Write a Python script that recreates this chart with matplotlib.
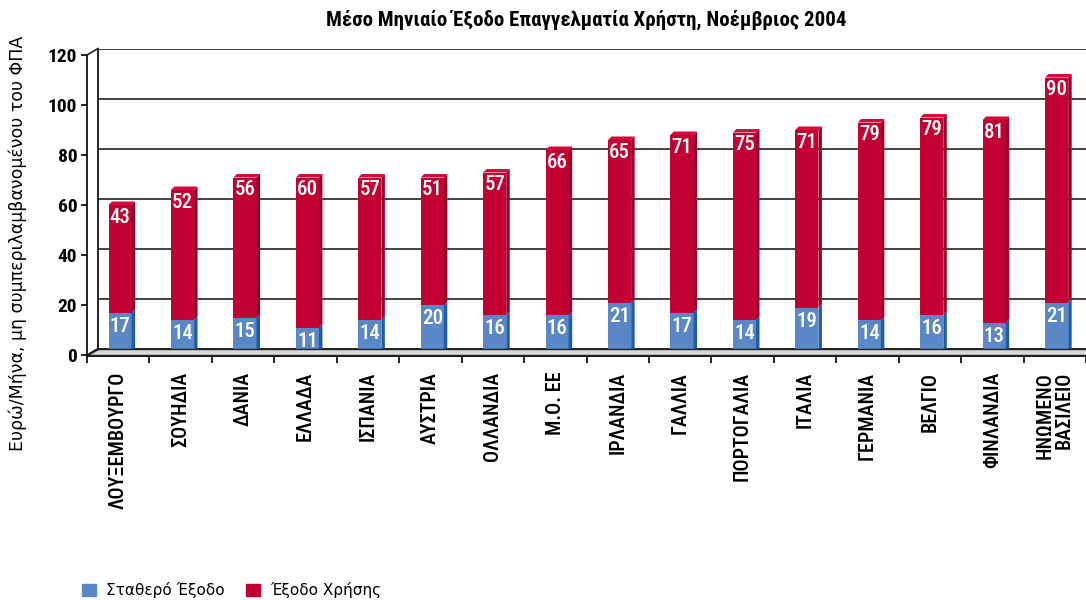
import matplotlib
matplotlib.use('Agg')
import matplotlib.pyplot as plt
from matplotlib import font_manager
from matplotlib.patches import Patch, Polygon

# Δεδομένα
countries = ['ΛΟΥΞΕΜΒΟΥΡΓΟ', 'ΣΟΥΗΔΙΑ', 'ΔΑΝΙΑ', 'ΕΛΛΑΔΑ', 'ΙΣΠΑΝΙΑ', 'ΑΥΣΤΡΙΑ',
             'ΟΛΛΑΝΔΙΑ', 'Μ.Ο. ΕΕ', 'ΙΡΛΑΝΔΙΑ', 'ΓΑΛΛΙΑ', 'ΠΟΡΤΟΓΑΛΙΑ', 'ΙΤΑΛΙΑ',
             'ΓΕΡΜΑΝΙΑ', 'ΒΕΛΓΙΟ', 'ΦΙΝΛΑΝΔΙΑ', 'ΗΝΩΜΕΝΟ\nΒΑΣΙΛΕΙΟ']
fixed_cost = [17, 14, 15, 11, 14, 20, 16, 16, 21, 17, 14, 19, 14, 16, 13, 21]
usage_cost = [43, 52, 56, 60, 57, 51, 57, 66, 65, 71, 75, 71, 79, 79, 81, 90]
y_ticks = [0, 20, 40, 60, 80, 100, 120]

title = 'Μέσο Μηνιαίο Έξοδο Επαγγελματία Χρήστη, Νοέμβριος 2004'
ylabel = 'Ευρώ/Μήνα, μη συμπεριλαμβανομένου του ΦΠΑ'
legend_labels = ['Σταθερό Έξοδο', 'Έξοδο Χρήσης']

blue, blue_side = '#5a87c5', '#1f5ca8'
red, red_side = '#c30032', '#9c0028'

# στενή γραμματοσειρά αν υπάρχει
names = {f.name for f in font_manager.fontManager.ttflist}
cond = 'DejaVu Sans'
for n in ['Roboto Condensed', 'DejaVu Sans Condensed', 'Liberation Sans Narrow']:
    if n in names:
        cond = n
        break

W, H = 1086, 600
fig = plt.figure(figsize=(W / 100, H / 100), dpi=100)

# μπροστινό επίπεδο (px)
fl, fb, fw, fh = 87, 355, 999, 300
dxp, dyp = 11, 6.5  # βάθος πίσω τοίχου

bx = fig.add_axes([(fl + dxp) / W, (H - fb + dyp) / H, fw / W, fh / H])
ax = fig.add_axes([fl / W, (H - fb) / H, fw / W, fh / H])

xmin, xmax = -0.5, -0.5 + fw / 62.8
for a in (ax, bx):
    a.set_xlim(xmin, xmax)
    a.set_ylim(0, 120)

# πίσω τοίχος
bx.set_facecolor('white')
for y in y_ticks[1:]:
    bx.axhline(y, color='#222222', lw=1.2)
for s in ['right', 'top']:
    bx.spines[s].set_visible(False)
bx.spines['left'].set_linewidth(1.2)
bx.spines['bottom'].set_linewidth(1.2)
bx.set_xticks([])
bx.set_yticks([])

# δάπεδο
floor = Polygon([(fl / W, (H - fb) / H), (1.01, (H - fb) / H),
                 (1.01, (H - fb + dyp) / H), ((fl + dxp) / W, (H - fb + dyp) / H)],
                closed=True, transform=fig.transFigure, facecolor='#d9d9d9',
                edgecolor='#222222', lw=1.0, zorder=1)
fig.patches.append(floor)
# διαγώνιες γωνίες
for yy in (fb, fb - fh):
    fig.lines.append(plt.Line2D([fl / W, (fl + dxp) / W],
                                [(H - yy) / H, (H - yy + dyp) / H],
                                transform=fig.transFigure, color='#222222', lw=1.2))

ax.patch.set_alpha(0)
for s in ['right', 'top']:
    ax.spines[s].set_visible(False)
ax.spines['left'].set_linewidth(1.2)
ax.spines['bottom'].set_linewidth(2)

x = [i + 0.03 for i in range(len(countries))]
bw = 0.37
ddx, ddy = 3.5 / 62.8, 3.5 / 2.5  # βάθος μπάρας

ax.bar(x, fixed_cost, width=bw, color=blue, zorder=3)
ax.bar(x, usage_cost, width=bw, bottom=fixed_cost, color=red, zorder=3)

for xi, f, u in zip(x, fixed_cost, usage_cost):
    r = xi + bw / 2
    l = xi - bw / 2
    top = f + u
    ax.add_patch(Polygon([(r, 0), (r + ddx, ddy), (r + ddx, f + ddy), (r, f)],
                         closed=True, color=blue_side, zorder=3, lw=0))
    ax.add_patch(Polygon([(r, f), (r + ddx, f + ddy), (r + ddx, top + ddy), (r, top)],
                         closed=True, color=red_side, zorder=3, lw=0))
    ax.add_patch(Polygon([(l, top), (l + ddx, top + ddy), (r + ddx, top + ddy), (r, top)],
                         closed=True, color='#d40a3c', zorder=3, lw=0))
    ax.annotate(str(f), (xi, f), xytext=(0, -3), textcoords='offset points',
                ha='center', va='top', color='white', fontsize=15,
                family=cond, fontweight='medium', zorder=4)
    ax.annotate(str(u), (xi, top), xytext=(0, -2), textcoords='offset points',
                ha='center', va='top', color='white', fontsize=15,
                family=cond, fontweight='medium', zorder=4)

ax.set_yticks(y_ticks)
ax.set_yticklabels([str(v) for v in y_ticks], family=cond, fontweight='bold', fontsize=14)
ax.tick_params(axis='y', length=4, width=1.2, pad=3)

ax.set_xticks(range(len(countries)))
ax.set_xticklabels(countries, rotation=90, va='top', ha='center',
                   multialignment='right', family=cond, fontsize=14.5,
                   fontweight='medium', linespacing=1.0)
ax.set_xticks([i - 0.5 for i in range(len(countries) + 1)], minor=True)
ax.tick_params(axis='x', which='major', length=0, pad=12)
ax.tick_params(axis='x', which='minor', length=6, width=1.2)

fig.text(586 / W, 1 - 20 / H, title, ha='center', va='center',
         family=cond, fontweight='bold', fontsize=15)
fig.text(18 / W, 1 - 243 / H, ylabel, rotation=90, ha='center', va='center',
         fontsize=12.5)

handles = [Patch(color=blue), Patch(color=red)]
fig.legend(handles, legend_labels, loc='lower left', bbox_to_anchor=(68 / W, -0.02),
           ncol=2, frameon=False, fontsize=11, handlelength=0.9, handleheight=0.9,
           columnspacing=1.4, handletextpad=0.7)

fig.savefig('out.png', dpi=100)
